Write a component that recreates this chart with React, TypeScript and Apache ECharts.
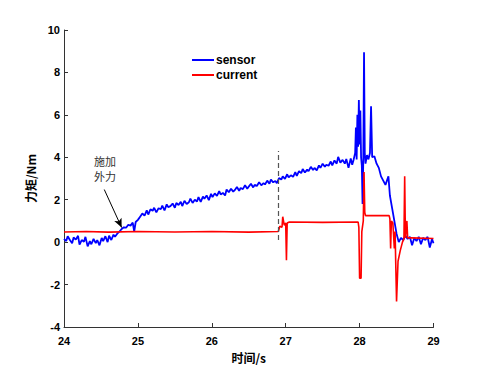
import React, { useEffect, useRef } from "react";
import * as echarts from "echarts";

const xTicks = { min: 24, max: 29, interval: 1 };
const yTicks = { min: -4, max: 10, interval: 2 };

// sensor torque [time s, torque Nm]
const sensorData: [number, number][] = [
  [24.0, 0.15], [24.03, 0.05], [24.05, 0.28], [24.08, 0.1], [24.11, -0.05], [24.13, 0.22],
  [24.16, 0.12], [24.19, 0.3], [24.21, -0.12], [24.24, 0.1], [24.27, 0.02], [24.29, 0.25],
  [24.32, -0.2], [24.35, 0.05], [24.37, -0.1], [24.4, 0.15], [24.43, -0.05], [24.45, 0.1],
  [24.48, -0.15], [24.51, 0.2], [24.53, 0.05], [24.56, 0.28], [24.59, 0.0], [24.61, 0.3],
  [24.64, 0.1], [24.67, 0.35], [24.69, 0.25], [24.72, 0.4], [24.75, 0.5], [24.78, 0.62],
  [24.81, 0.7], [24.84, 0.68], [24.87, 0.82], [24.9, 0.78], [24.93, 0.92], [24.95, 0.5],
  [24.97, 0.95], [25.0, 1.05], [25.03, 1.2], [25.06, 1.35], [25.09, 1.25], [25.12, 1.5],
  [25.14, 1.3], [25.17, 1.55], [25.2, 1.48], [25.22, 1.62], [25.25, 1.4], [25.28, 1.6],
  [25.31, 1.55], [25.33, 1.72], [25.36, 1.5], [25.39, 1.78], [25.41, 1.65], [25.44, 1.7],
  [25.47, 1.82], [25.5, 1.62], [25.52, 1.85], [25.55, 1.75], [25.58, 1.9], [25.6, 1.7],
  [25.63, 1.95], [25.66, 1.8], [25.69, 1.88], [25.71, 2.05], [25.74, 1.85], [25.77, 2.0],
  [25.8, 1.92], [25.82, 2.12], [25.85, 1.9], [25.88, 2.15], [25.9, 2.05], [25.93, 2.2],
  [25.96, 1.98], [25.99, 2.28], [26.01, 2.12], [26.04, 2.3], [26.07, 2.18], [26.1, 2.4],
  [26.12, 2.25], [26.15, 2.32], [26.18, 2.2], [26.2, 2.48], [26.23, 2.35], [26.26, 2.52],
  [26.29, 2.38], [26.31, 2.45], [26.34, 2.6], [26.37, 2.42], [26.39, 2.55], [26.42, 2.5],
  [26.45, 2.68], [26.48, 2.52], [26.5, 2.62], [26.53, 2.75], [26.56, 2.58], [26.58, 2.7],
  [26.61, 2.65], [26.64, 2.82], [26.67, 2.68], [26.7, 2.78], [26.72, 2.72], [26.75, 2.9],
  [26.78, 2.75], [26.8, 2.95], [26.83, 2.82], [26.86, 2.88], [26.88, 2.78], [26.91, 3.02],
  [26.94, 2.95], [26.96, 3.1], [26.99, 2.98], [27.02, 3.2], [27.04, 3.05], [27.07, 3.15],
  [27.1, 3.08], [27.13, 3.3], [27.15, 3.12], [27.18, 3.35], [27.21, 3.25], [27.23, 3.45],
  [27.26, 3.28], [27.29, 3.42], [27.31, 3.35], [27.34, 3.55], [27.37, 3.4], [27.39, 3.5],
  [27.42, 3.38], [27.45, 3.62], [27.47, 3.5], [27.5, 3.7], [27.53, 3.55], [27.55, 3.65],
  [27.58, 3.6], [27.61, 3.8], [27.63, 3.62], [27.66, 3.85], [27.69, 3.7], [27.71, 4.02],
  [27.74, 3.75], [27.77, 3.88], [27.8, 3.7], [27.82, 3.92], [27.85, 3.5], [27.88, 3.95],
  [27.9, 3.65], [27.92, 3.9], [27.94, 4.2], [27.95, 5.4], [27.96, 3.9], [27.97, 6.0],
  [27.98, 4.5], [27.99, 6.7], [28.0, 4.6], [28.01, 6.2], [28.02, 4.0], [28.03, 3.6],
  [28.04, 1.8], [28.05, 3.9], [28.06, 8.95], [28.07, 4.2], [28.08, 3.7], [28.1, 4.1],
  [28.12, 3.9], [28.14, 4.2], [28.155, 6.4], [28.17, 4.0], [28.2, 4.05], [28.23, 3.7],
  [28.26, 3.5], [28.29, 3.1], [28.32, 2.9], [28.35, 2.7], [28.37, 2.9], [28.39, 3.1],
  [28.41, 2.2], [28.44, 1.6], [28.47, 1.0], [28.5, 0.4], [28.53, 0.0], [28.56, 0.2],
  [28.59, 0.1], [28.62, 0.3], [28.65, 0.15], [28.68, 0.25], [28.71, -0.15], [28.74, 0.2],
  [28.77, 0.05], [28.8, 0.25], [28.83, -0.1], [28.86, 0.2], [28.89, 0.1], [28.92, 0.25],
  [28.95, -0.25], [28.98, 0.15], [29.0, -0.05],
];

// current-estimated torque [time s, torque Nm]
const currentData: [number, number][] = [
  [24.0, 0.48], [24.3, 0.5], [24.6, 0.47], [25.0, 0.5], [25.5, 0.48], [26.0, 0.5],
  [26.5, 0.47], [26.9, 0.5], [26.92, 0.75], [26.95, 0.7], [26.96, 1.2], [26.98, 0.8],
  [27.0, 0.9], [27.01, -0.85], [27.02, 0.9], [27.05, 0.95], [27.5, 0.93], [27.98, 0.95],
  [27.99, 0.7], [28.0, -1.7], [28.02, -1.7], [28.03, 0.5], [28.05, 1.0], [28.06, 3.3],
  [28.07, 1.4], [28.08, 1.25], [28.4, 1.25], [28.41, 1.1], [28.42, -0.3], [28.43, 1.0],
  [28.45, 0.9], [28.47, -0.3], [28.48, 0.5], [28.5, -2.8], [28.52, -0.9], [28.55, -0.4],
  [28.58, 0.0], [28.6, 0.15], [28.61, 3.1], [28.62, 0.2], [28.64, 1.0], [28.65, 0.2],
  [28.7, 0.2], [29.0, 0.17],
];

const seriesNames = ["sensor", "current"];
const seriesColors = ["#0000FF", "#FF0000"];

const dashedLine: [number, number][] = [[26.9, 0.1], [26.9, 4.3]];
const arrowLine: [number, number][] = [[24.545, 2.48], [24.78, 0.69]];
const noteText = "施加\n外力";
const notePos: [number, number] = [24.555, 3.47];

const axisFont = {
  fontFamily: "'Liberation Sans', Arial, sans-serif",
  fontWeight: "bold" as const,
  fontSize: 11,
  color: "#000",
};
const nameFont = {
  fontFamily: "'Noto Sans CJK SC', 'Liberation Sans', sans-serif",
  fontWeight: "bold" as const,
  fontSize: 12,
  color: "#000",
};

export default function App() {
  const ref = useRef<HTMLDivElement>(null);
  useEffect(() => {
    if (!ref.current) return;
    const chart = echarts.init(ref.current, null, { renderer: "svg" });
    chart.setOption({
      animation: false,
      backgroundColor: "#fff",
      grid: { left: 64, top: 30, width: 369.5, height: 297, containLabel: false },
      legend: {
        orient: "vertical",
        left: 192,
        top: 53,
        padding: 0,
        itemWidth: 22,
        itemHeight: 2,
        itemGap: 1,
        icon: "rect",
        data: seriesNames,
        textStyle: {
          fontFamily: "'Liberation Sans', Arial, sans-serif",
          fontWeight: "bold",
          fontSize: 12,
          color: "#000",
          lineHeight: 14,
          padding: [0, 0, 0, -3],
        },
      },
      xAxis: {
        type: "value",
        min: xTicks.min,
        max: xTicks.max,
        interval: xTicks.interval,
        name: "时间/s",
        nameLocation: "middle",
        nameGap: 24,
        nameTextStyle: { ...nameFont, verticalAlign: "top" },
        axisLine: { show: true, onZero: false, lineStyle: { color: "#333", width: 1 } },
        axisTick: { show: true, inside: true, length: 4, lineStyle: { color: "#333" } },
        axisLabel: { ...axisFont, margin: 8 },
        splitLine: { show: false },
      },
      yAxis: {
        type: "value",
        min: yTicks.min,
        max: yTicks.max,
        interval: yTicks.interval,
        name: "力矩/Nm",
        nameLocation: "middle",
        nameGap: 21,
        nameTextStyle: nameFont,
        axisLine: { show: true, onZero: false, lineStyle: { color: "#333", width: 1 } },
        axisTick: { show: true, inside: true, length: 4, lineStyle: { color: "#333" } },
        axisLabel: { ...axisFont, margin: 4 },
        splitLine: { show: false },
      },
      series: [
        {
          name: seriesNames[0],
          type: "line",
          data: sensorData,
          symbol: "none",
          color: seriesColors[0],
          lineStyle: { color: seriesColors[0], width: 1.8 },
          z: 2,
          markLine: {
            silent: true,
            animation: false,
            label: { show: false },
            data: [
              [
                { coord: dashedLine[0], symbol: "none" },
                { coord: dashedLine[1], symbol: "none" },
              ],
              [
                { coord: arrowLine[0], symbol: "none", lineStyle: { color: "#000", type: "solid", width: 1 } },
                { coord: arrowLine[1], symbol: "arrow", symbolSize: [6, 9] },
              ],
            ],
            lineStyle: { color: "#555", type: [5, 3], width: 1.2 },
          },
          markPoint: {
            silent: true,
            symbol: "circle",
            symbolSize: 0,
            data: [{ coord: notePos }],
            label: {
              show: true,
              formatter: noteText,
              position: "inside",
              fontFamily: "'Noto Sans CJK SC', sans-serif",
              fontSize: 11,
              lineHeight: 15.5,
              color: "#333",
            },
          },
        },
        {
          name: seriesNames[1],
          type: "line",
          data: currentData,
          symbol: "none",
          color: seriesColors[1],
          lineStyle: { color: seriesColors[1], width: 1.6 },
          z: 3,
        },
      ],
    });
    return () => chart.dispose();
  }, []);
  return (
    <div
      ref={ref}
      style={{ position: "fixed", left: 0, top: 0, width: 481, height: 370, background: "#fff" }}
    />
  );
}
